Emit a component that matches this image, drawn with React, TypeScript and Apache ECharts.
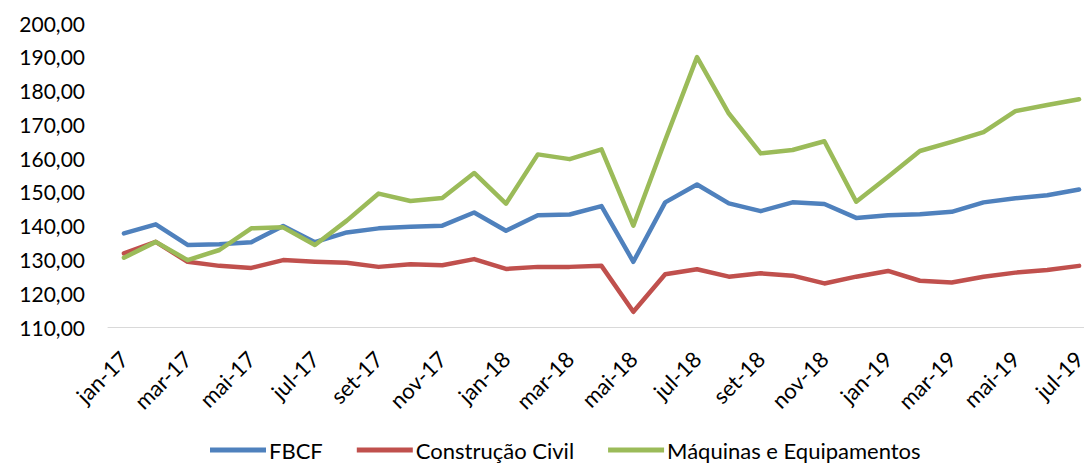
import React, { useEffect, useRef } from "react";
import * as echarts from "echarts";

const months = ["jan", "fev", "mar", "abr", "mai", "jun", "jul", "ago", "set", "out", "nov", "dez"];
const categories: string[] = [];
for (let y = 17; y <= 19; y++) {
  for (let m = 0; m < 12; m++) {
    if (y === 19 && m > 6) break;
    categories.push(`${months[m]}-${y}`);
  }
}

const fbcf = [
  137.7, 140.4, 134.3, 134.5, 135.1, 139.9, 135.1, 138.0, 139.2, 139.7, 140.0,
  143.9, 138.5, 143.1, 143.3, 145.8, 129.3, 146.9, 152.2, 146.6, 144.3, 146.9,
  146.4, 142.3, 143.1, 143.4, 144.1, 146.9, 148.1, 149.0, 150.7,
];
const construcao = [
  131.8, 135.2, 129.3, 128.1, 127.5, 129.8, 129.3, 129.0, 127.8, 128.6, 128.3,
  130.1, 127.2, 127.8, 127.8, 128.1, 114.5, 125.6, 127.1, 124.9, 125.9, 125.2,
  122.9, 124.9, 126.6, 123.7, 123.2, 124.9, 126.1, 126.9, 128.1,
];
const maquinas = [
  130.5, 135.2, 129.8, 132.8, 139.2, 139.5, 134.3, 141.5, 149.5, 147.3, 148.2,
  155.6, 146.5, 161.1, 159.7, 162.6, 140.0, 165.3, 189.9, 173.2, 161.4, 162.4,
  165.0, 147.1, 154.5, 162.1, 164.8, 167.7, 173.9, 175.7, 177.4,
];

const seriesNames = ["FBCF", "Construção Civil", "Máquinas e Equipamentos"];
const seriesColors = ["#4F81BD", "#C0504D", "#9BBB59"];
const seriesData = [fbcf, construcao, maquinas];

export default function App() {
  const ref = useRef<HTMLDivElement>(null);
  useEffect(() => {
    if (!ref.current) return;
    const chart = echarts.init(ref.current, null, { renderer: "svg" });
    const font = "Lato";
    chart.setOption({
      animation: false,
      backgroundColor: "#ffffff",
      textStyle: { fontFamily: font },
      grid: { left: 108, top: 23, width: 987, height: 304, containLabel: false },
      legend: {
        left: 210,
        top: 439,
        padding: 0,
        itemWidth: 56,
        itemHeight: 5,
        itemGap: 34,
        icon: "rect",
        selectedMode: false,
        textStyle: { fontSize: 22, color: "#000", fontFamily: font, padding: [0, 0, 0, -2] },
        data: seriesNames,
      },
      xAxis: {
        type: "category",
        data: categories,
        boundaryGap: true,
        axisLine: { lineStyle: { color: "#D9D9D9", width: 1 } },
        axisTick: { interval: 1, length: 7, lineStyle: { color: "#D9D9D9" } },
        axisLabel: {
          interval: 1,
          rotate: 45,
          fontSize: 22,
          color: "#000",
          fontFamily: font,
          margin: 28,
          padding: [26, 0, 0, 0],
        },
        splitLine: { show: false },
      },
      yAxis: {
        type: "value",
        min: 110,
        max: 200,
        interval: 10,
        axisLine: { show: false },
        axisTick: { show: false },
        splitLine: { show: false },
        axisLabel: {
          fontSize: 21,
          color: "#000",
          fontFamily: font,
          margin: 23,
          formatter: (v: number) => v.toFixed(2).replace(".", ","),
        },
      },
      series: seriesNames.map((name, i) => ({
        name,
        type: "line",
        data: seriesData[i],
        showSymbol: false,
        symbol: "none",
        color: seriesColors[i],
        lineStyle: { color: seriesColors[i], width: 4.5, cap: "round", join: "round" },
      })),
    });
    return () => chart.dispose();
  }, []);
  return (
    <div
      style={{
        position: "fixed",
        left: 0,
        top: 0,
        width: 1084,
        height: 463,
        overflow: "hidden",
        background: "#fff",
      }}
    >
      <div ref={ref} style={{ width: 1100, height: 463 }} />
    </div>
  );
}
